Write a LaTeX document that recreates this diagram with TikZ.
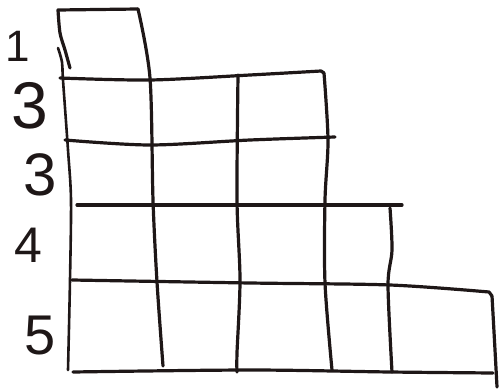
\documentclass[tikz,border=0pt]{standalone}
\usepackage{fontspec}
\setmainfont{Liberation Sans}
\definecolor{ink}{HTML}{1E1717}
\begin{document}
\begin{tikzpicture}[x=1pt,y=-1pt,
  pen/.style={draw=ink,line width=3.2pt,line cap=round,line join=round},
  lbl/.style={text=ink,font=\fontsize{#1}{#1}\selectfont,inner sep=0pt}]
\useasboundingbox (0,0) rectangle (500,390);
% top box
\draw[pen] plot[smooth] coordinates {(70,68) (65,50) (60,33) (58,10)} -- (138,9);
\draw[pen] plot[smooth] coordinates {(138,9) (150,78) (153,200) (157,282) (163,366)};
% left edge
\draw[pen,line width=2.6pt] plot[smooth] coordinates {(58,48) (62,62) (63,80) (68,150) (71,200) (70,280) (68,370)};
% row lines
\draw[pen] plot[smooth] coordinates {(60,78) (150,80) (250,75) (321,71)} -- (324,73);
\draw[pen] plot[smooth] coordinates {(324,73) (328,140) (325,200) (325,283) (332,370)};
\draw[pen] plot[smooth] coordinates {(65,140) (150,145) (250,140) (335,137)};
\draw[pen] plot[smooth] coordinates {(238,75) (237,200) (240,280) (237,353) (237,372)};
\draw[pen] plot[smooth] coordinates {(77,205) (250,205) (402,205)};
\draw[pen] plot[smooth] coordinates {(390,208) (392,250) (388,285) (392,372)};
\draw[pen] plot[smooth] coordinates {(72,280) (250,283) (390,285) (489,292)} -- (492,296);
\draw[pen] plot[smooth] coordinates {(492,296) (495,350) (497,387)};
\draw[pen] plot[smooth] coordinates {(73,372) (250,370) (390,372) (493,373)};
% labels
\node[lbl=44] (l1) at (18,46) {1};
\node[lbl=66] (l2) at (30,106) {3};
\node[lbl=60] (l3) at (40,175) {3};
\node[lbl=50] (l4) at (28,245) {4};
\node[lbl=56] (l5) at (40,336) {5};
\end{tikzpicture}
\end{document}
